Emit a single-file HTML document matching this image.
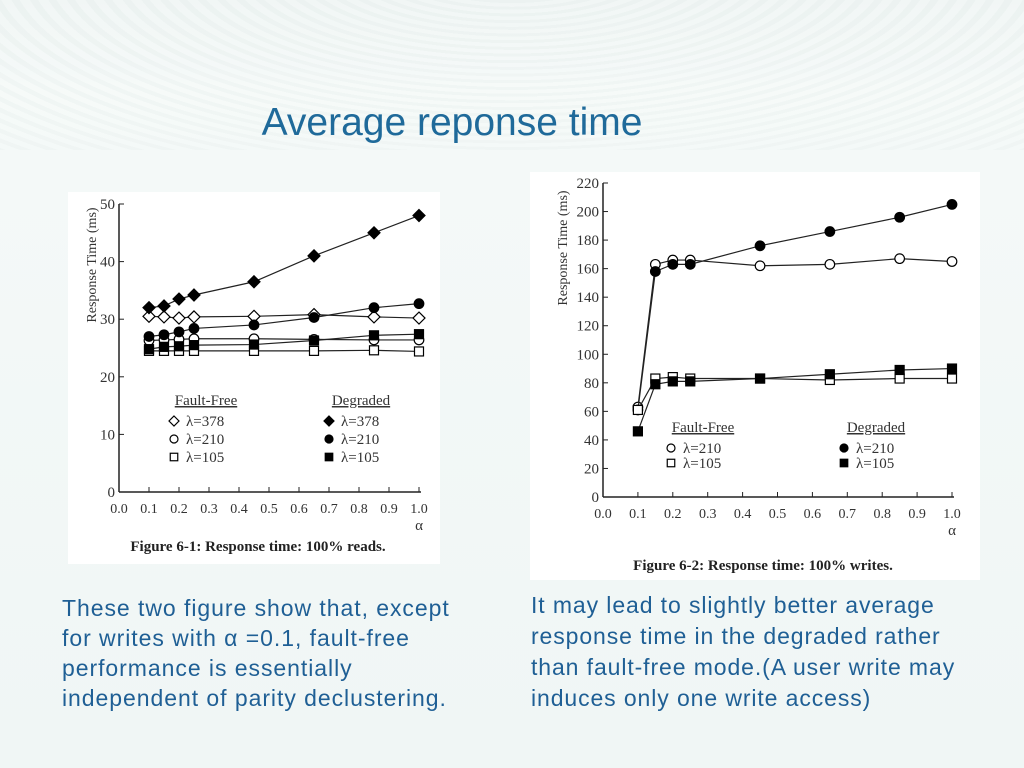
<!DOCTYPE html>
<html><head><meta charset="utf-8">
<style>
body{margin:0;width:1024px;height:768px;overflow:hidden;font-family:"Liberation Sans",sans-serif;}
#slide{position:relative;width:1024px;height:768px;background:linear-gradient(#eef4f3 0,#f6faf9 90px,#f4f9f8 160px,#f0f6f5 768px);}
.sw{position:absolute;left:0;top:0;width:1024px;height:150px;background:repeating-radial-gradient(ellipse at 50% -40px,#e9f0ee 0 8px,#f5f9f8 8px 18px);opacity:.45}
#title{position:absolute;left:0;width:904px;top:101px;text-align:center;font-size:39px;color:#1f6a9a;}
.txt{position:absolute;color:#1f5f95;white-space:nowrap;}
svg{position:absolute;left:0;top:0}
</style></head><body>
<div id="slide">
<div class="sw"></div>
<div id="title">Average reponse time</div>
<div class="txt" style="left:62px;top:593px;font-size:23px;line-height:30px;letter-spacing:0.95px">These two figure show that, except<br>for writes with α =0.1, fault-free<br>performance is essentially<br>independent of parity declustering.</div>
<div class="txt" style="left:531px;top:590px;font-size:23px;line-height:31px;letter-spacing:0.9px">It may lead to slightly better average<br>response time in the degraded rather<br>than fault-free mode.(A user write may<br>induces only one write access)</div>
<svg id="svg" width="1024" height="768"></svg>
</div>
<script>
const alphas=[0.1,0.15,0.2,0.25,0.45,0.65,0.85,1.0];
const xTicks=["0.0","0.1","0.2","0.3","0.4","0.5","0.6","0.7","0.8","0.9","1.0"];
const leftYTicks=[0,10,20,30,40,50];
const rightYTicks=[0,20,40,60,80,100,120,140,160,180,200,220];
const readFF378=[30.5,30.4,30.2,30.4,30.5,30.8,30.4,30.2];
const readDG378=[32,32.3,33.5,34.2,36.5,41,45,48];
const readFF210=[26.3,26.4,26.5,26.6,26.6,26.5,26.4,26.4];
const readDG210=[27,27.3,27.8,28.4,29,30.3,32,32.7];
const readFF105=[24.5,24.5,24.5,24.5,24.5,24.5,24.6,24.4];
const readDG105=[24.8,25.2,25.3,25.5,25.6,26.3,27.2,27.4];
const writeFF210=[63,163,166,166,162,163,167,165];
const writeDG210=[61,158,163,163,176,186,196,205];
const writeFF105=[61,83,84,83,83,82,83,83];
const writeDG105=[46,79,81,81,83,86,89,90];
const NS="http://www.w3.org/2000/svg";
const svg=document.getElementById('svg');
function el(t,a,p){const e=document.createElementNS(NS,t);for(const k in a)e.setAttribute(k,a[k]);(p||svg).appendChild(e);return e;}
function marker(g,shape,fill,x,y,s){
  let m;
  if(shape==='d')m=el('polygon',{points:`${x},${y-s} ${x+s},${y} ${x},${y+s} ${x-s},${y}`},g);
  else if(shape==='c')m=el('circle',{cx:x,cy:y,r:s*0.8},g);
  else m=el('rect',{x:x-s*0.75,y:y-s*0.75,width:s*1.5,height:s*1.5},g);
  m.setAttribute('fill',fill?'#000':'#fff');m.setAttribute('stroke','#000');m.setAttribute('stroke-width','1.2');
  return m;
}
function chart(o){
  const g=el('g',{});
  
  
  const bg=el('rect',{x:o.px,y:o.py,width:o.pw,height:o.ph,fill:'#fff'},g);
  
  
  const X=v=>o.x0+(o.x1-o.x0)*v, Y=v=>o.y0-(o.y0-o.y1)*v/o.ymax;
  el('line',{x1:o.x0,y1:o.y0,x2:o.x0,y2:o.y1,stroke:'#222','stroke-width':1.5},g);
  el('line',{x1:o.x0,y1:o.y0,x2:o.x1+2,y2:o.y0,stroke:'#222','stroke-width':1.5},g);
  o.yt.forEach(v=>{el('line',{x1:o.x0,y1:Y(v),x2:o.x0+5,y2:Y(v),stroke:'#222'},g);
    const t=el('text',{x:o.x0-4,y:Y(v)+5,'text-anchor':'end','font-family':'Liberation Serif,serif','font-size':15,fill:'#333'},g);t.textContent=v;});
  xTicks.forEach((s,i)=>{const x=X(i/10);el('line',{x1:x,y1:o.y0,x2:x,y2:o.y0-5,stroke:'#222'},g);
    const t=el('text',{x:x,y:o.y0+21,'text-anchor':'middle','font-family':'Liberation Serif,serif','font-size':14,fill:'#333'},g);t.textContent=s;});
  const a=el('text',{x:X(1),y:o.y0+38,'text-anchor':'middle','font-family':'Liberation Serif,serif','font-size':15,fill:'#333'},g);a.textContent='α';
  const yl=el('text',{transform:`translate(${o.tx},${o.ty}) rotate(-90)`,'text-anchor':'middle','font-family':'Liberation Serif,serif','font-size':14,fill:'#333'},g);yl.textContent='Response Time (ms)';
  
  o.series.forEach(s=>{
    const sg=el('g',{},g);
    
    
    el('polyline',{points:alphas.map((v,i)=>X(v)+','+Y(s.d[i])).join(' '),fill:'none',stroke:'#222','stroke-width':1.2},sg);
    alphas.forEach((v,i)=>marker(sg,s.sh,s.f,X(v),Y(s.d[i]),o.ms));
  });
  const lg=el('g',{},g);
  
  
  [[o.lx1,'Fault-Free',false],[o.lx2,'Degraded',true]].forEach(([lx,h,f])=>{
    const t=el('text',{x:lx+20,y:o.ly,'text-anchor':'middle','font-family':'Liberation Serif,serif','font-size':15,fill:'#333','text-decoration':'underline'},lg);t.textContent=h;
    o.leg.forEach((L,i)=>{const yy=o.ly+20+i*o.lsp;marker(lg,L[0],f,lx-12,yy-4,5);
      const u=el('text',{x:lx,y:yy+1,'font-family':'Liberation Serif,serif','font-size':15,fill:'#333'},lg);u.textContent='λ='+L[1];});
  });
  const c=el('text',{x:o.cx,y:o.cy,'text-anchor':'middle','font-family':'Liberation Serif,serif','font-size':15,'font-weight':'bold',fill:'#222'},g);c.textContent=o.cap;
  
}
chart({name:'read-chart',px:68,py:192,pw:372,ph:372,x0:119,x1:419,y0:492,y1:204,ymax:50,yt:leftYTicks,ms:6,tx:96,ty:265,
  series:[{name:'ff-378',sh:'d',f:false,d:readFF378},{name:'dg-378',sh:'d',f:true,d:readDG378},{name:'ff-210',sh:'c',f:false,d:readFF210},{name:'dg-210',sh:'c',f:true,d:readDG210},{name:'ff-105',sh:'s',f:false,d:readFF105},{name:'dg-105',sh:'s',f:true,d:readDG105}],
  leg:[['d',378],['c',210],['s',105]],lx1:186,lx2:341,ly:405,lsp:18,cx:258,cy:551,cap:'Figure 6-1: Response time: 100% reads.'});
chart({name:'write-chart',px:530,py:172,pw:450,ph:408,x0:603,x1:952,y0:497,y1:183,ymax:220,yt:rightYTicks,ms:6,tx:567,ty:248,
  series:[{name:'ff-210',sh:'c',f:false,d:writeFF210},{name:'dg-210',sh:'c',f:true,d:writeDG210},{name:'ff-105',sh:'s',f:false,d:writeFF105},{name:'dg-105',sh:'s',f:true,d:writeDG105}],
  leg:[['c',210],['s',105]],lx1:683,lx2:856,ly:432,lsp:15,cx:763,cy:570,cap:'Figure 6-2: Response time: 100% writes.'});
</script>
</body></html>
